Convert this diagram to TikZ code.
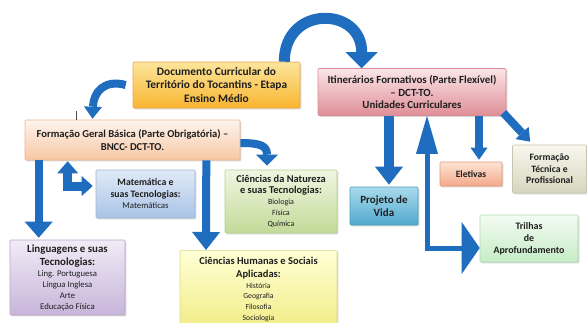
\documentclass[tikz,border=0pt]{standalone}
\usepackage{fontspec}
\setmainfont{Carlito}[BoldFont={Carlito Bold}]
\usetikzlibrary{arrows.meta,shadows,calc}
\definecolor{arrowblue}{HTML}{1F6DBF}
\definecolor{txt}{HTML}{1E1E1E}
\definecolor{docD}{HTML}{F0A94A}\definecolor{docT}{HTML}{FDE59C}\definecolor{docB}{HTML}{F8B530}
\definecolor{fgbD}{HTML}{F2B48B}\definecolor{fgbT}{HTML}{FEF4EE}\definecolor{fgbB}{HTML}{F7C7A3}
\definecolor{itiD}{HTML}{D88A92}\definecolor{itiT}{HTML}{FAE6E8}\definecolor{itiB}{HTML}{E08E97}
\definecolor{matD}{HTML}{9DB6DA}\definecolor{matT}{HTML}{E0EAF7}\definecolor{matB}{HTML}{A9C3E6}
\definecolor{cnD}{HTML}{B8D090}\definecolor{cnT}{HTML}{F0F6E2}\definecolor{cnB}{HTML}{C2DA98}
\definecolor{linD}{HTML}{B9A6CC}\definecolor{linT}{HTML}{F1EBF6}\definecolor{linB}{HTML}{C8B5DA}
\definecolor{chD}{HTML}{DCD88E}\definecolor{chT}{HTML}{FFFFD6}\definecolor{chB}{HTML}{F1EC84}
\definecolor{pvD}{HTML}{4A9FC0}\definecolor{pvT}{HTML}{A9DAEC}\definecolor{pvB}{HTML}{52A9CD}
\definecolor{elD}{HTML}{E89878}\definecolor{elT}{HTML}{FDE3D4}\definecolor{elB}{HTML}{F4A989}
\definecolor{ftD}{HTML}{C6C6AE}\definecolor{ftT}{HTML}{F7F7EE}\definecolor{ftB}{HTML}{D6D6BE}
\definecolor{trD}{HTML}{AEDCAE}\definecolor{trT}{HTML}{F3FBF3}\definecolor{trB}{HTML}{C6ECC6}
\newcommand{\subtxt}[2]{{\mdseries\fontsize{#1}{#1}\selectfont #2}}
\begin{document}
\begin{tikzpicture}[x=1pt,y=-1pt,
  box/.style={draw=#1D, top color=#1T, bottom color=#1B, rounded corners=1pt,
    line width=0.6pt, inner sep=1pt, align=center, text=txt,
    drop shadow={shadow xshift=1.3pt, shadow yshift=-1.3pt, opacity=0.3}},
  barrow/.style={draw=arrowblue, line width=#1, line cap=butt}
]
\clip (0,0) rectangle (587,322);
\fill[white] (0,0) rectangle (587,322);

% boxes
\node[box=doc, minimum width=167pt, minimum height=46pt,
  font=\bfseries\fontsize{11.4}{13.3}\selectfont] (doc) at (216.5,85)
  {Documento Curricular do\\Território do Tocantins - Etapa\\Ensino Médio};
\node[box=fgb, minimum width=215pt, minimum height=40pt,
  font=\bfseries\fontsize{10.6}{13.3}\selectfont] (fgb) at (132.5,140)
  {Formação Geral Básica (Parte Obrigatória) –\\BNCC- DCT-TO.};
\node[box=iti, minimum width=188pt, minimum height=47pt,
  font=\bfseries\fontsize{10.9}{12.3}\selectfont] (itin) at (412,92)
  {Itinerários Formativos (Parte Flexível)\\– DCT-TO.\\Unidades Curriculares};
\node[box=mat, minimum width=99pt, minimum height=48pt,
  font=\bfseries\fontsize{9.8}{12}\selectfont] (mat) at (145.5,194)
  {Matemática e\\suas Tecnologias:\\[-1pt]\subtxt{8.8}{Matemáticas}};
\node[box=cn, minimum width=112pt, minimum height=63pt,
  font=\bfseries\fontsize{10.4}{11}\selectfont] (cn) at (281,201.5)
  {Ciências da Natureza\\e suas Tecnologias:\\\subtxt{8}{Biologia}\\\subtxt{8}{Física}\\\subtxt{8}{Química}};
\node[box=lin, minimum width=115pt, minimum height=75pt,
  font=\bfseries\fontsize{10.9}{13}\selectfont] (ling) at (67.5,277.5)
  {Linguagens e suas\\Tecnologias:\\[-2pt]\subtxt{8.7}{Ling. Portuguesa}\\[-2pt]\subtxt{8.7}{Língua Inglesa}\\[-2pt]\subtxt{8.7}{Arte}\\[-2pt]\subtxt{8.7}{Educação Física}};
\node[box=ch, minimum width=157pt, minimum height=82pt,
  anchor=north] (ch) at (258.5,250) {};
\node[anchor=north, align=center, text=txt,
  font=\bfseries\fontsize{10.5}{12.3}\selectfont] (chtext) at ([yshift=-4pt]ch.north)
  {Ciências Humanas e Sociais\\Aplicadas:\\[-1.5pt]\subtxt{7.7}{História}\\[-1.5pt]\subtxt{7.7}{Geografia}\\[-1.5pt]\subtxt{7.7}{Filosofia}\\[-1.5pt]\subtxt{7.7}{Sociologia}};
\node[box=pv, minimum width=68pt, minimum height=38pt,
  font=\bfseries\fontsize{11}{13}\selectfont] (pv) at (384,206) {Projeto de\\Vida};
\node[box=el, minimum width=62pt, minimum height=24pt,
  font=\bfseries\fontsize{9.6}{10}\selectfont] (elet) at (471,174) {Eletivas};
\node[box=ft, minimum width=74pt, minimum height=48pt,
  font=\bfseries\fontsize{9.7}{11.5}\selectfont] (ftp) at (549.5,169) {Formação\\Técnica e\\Profissional};
\node[box=tr, minimum width=98pt, minimum height=47pt,
  font=\bfseries\fontsize{9.9}{12}\selectfont] (tri) at (529,238.5) {Trilhas\\de\\Aprofundamento};

% tick mark
\draw[line width=0.8pt, black!70] ([xshift=-56.5pt]fgb.north) -- ++(0,-9);

% arrows
\draw[barrow=11pt, -{Triangle[width=32pt,length=16pt,line width=0pt]}]
  ([xshift=-16pt]doc.north east) .. controls +(0,-57) and +(0,-62) .. ([xshift=44pt]itin.north west);
\draw[barrow=8pt, -{Triangle[width=18pt,length=12pt,line width=0pt]}]
  ([xshift=-7pt]doc.west) .. controls +(-22,-6) and +(1,-26) .. ([xshift=-40pt,yshift=1pt]fgb.north);
\draw[barrow=8pt, -{Triangle[width=22pt,length=11pt,line width=0pt]}]
  ([yshift=-3pt]fgb.east) .. controls +(20,0) and +(0,-20) .. ([xshift=-14pt,yshift=4pt]cn.north);
\draw[barrow=8pt, -{Triangle[width=28pt,length=16pt,line width=0pt]}]
  ([xshift=14pt]fgb.south west) -- ([xshift=29pt,yshift=2pt]ling.north west);
\draw[barrow=9pt, {Triangle[width=21pt,length=12pt,line width=0pt]}-{Triangle[width=20pt,length=11pt,line width=0pt]}]
  ([xshift=43pt,yshift=-1pt]fgb.south west) |- ([xshift=-3pt,yshift=8pt]mat.west);
\draw[barrow=8pt, -{Triangle[width=28pt,length=18pt,line width=0pt]}]
  ([xshift=-34pt]fgb.south east) -- ([xshift=-52.5pt]ch.north);
\draw[barrow=10pt, -{Triangle[width=28pt,length=18pt,line width=0pt]}]
  ([xshift=-23pt]itin.south) -- ([xshift=5pt,yshift=2pt]pv.north);
\draw[barrow=8pt, -{Triangle[width=17pt,length=12pt,line width=0pt]}]
  ([xshift=67pt]itin.south) -- ([xshift=8pt,yshift=2pt]elet.north);
\draw[barrow=8pt, -{Triangle[width=18pt,length=12pt,line width=0pt]}]
  ([xshift=-3pt,yshift=3pt]itin.south east) -- ([xshift=18pt,yshift=3pt]ftp.north west);
\draw[barrow=5pt, {Triangle[width=52pt,length=18pt,line width=0pt]}-{Triangle[width=22pt,length=38pt,line width=0pt]}]
  ([yshift=-9.5pt]tri.west) -| ([xshift=15pt]itin.south);
\end{tikzpicture}
\end{document}
